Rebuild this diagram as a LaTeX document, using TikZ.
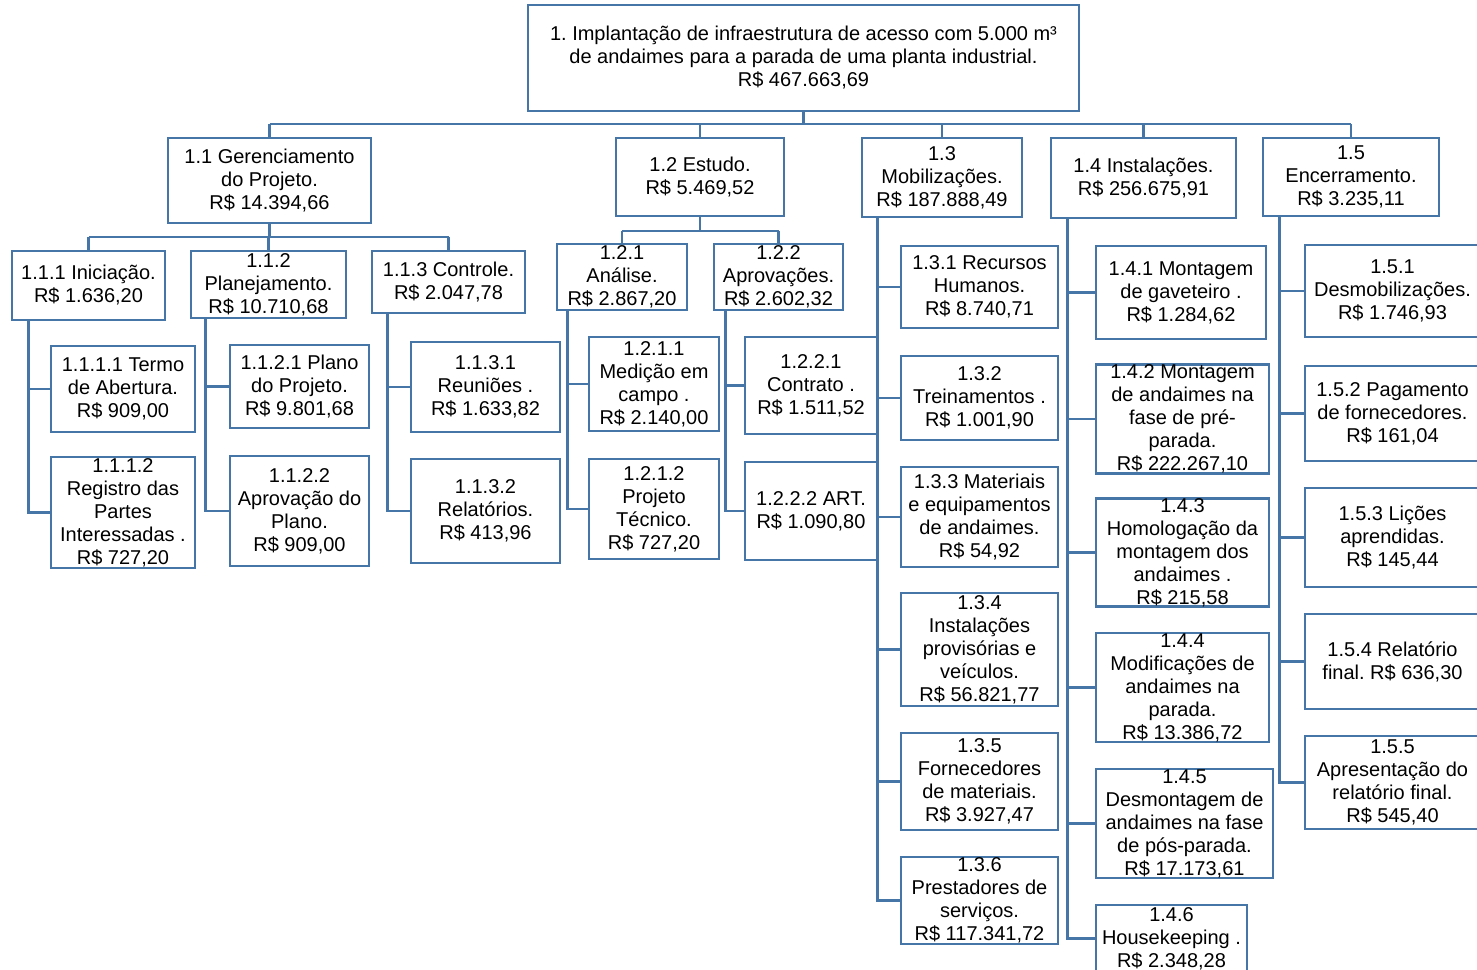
\documentclass[tikz,border=0pt]{standalone}
\usepackage{fontspec}
\setmainfont{Liberation Sans}
\frenchspacing
\definecolor{wbsblue}{RGB}{70,118,168}
\tikzset{
  wbox/.style={draw=wbsblue, line width=2.9pt, fill=white, inner sep=0pt, align=center,
    font=\fontsize{20}{23}\selectfont\frenchspacing, text=black},
  wline/.style={draw=wbsblue, line width=2.9pt}
}
\newcommand\wnode[7]{% name, x1, y1, x2, y2, text
  \node[wbox, minimum width={#4-#2}, minimum height={#5-#3}] (#1) at ({(#2+#4)/2},{(#3+#5)/2}) {#6};}
\begin{document}
\begin{tikzpicture}[x=1pt,y=-1pt]
\useasboundingbox (0,0) rectangle (1477,969);
\clip (0,0) rectangle (1477,969);
\fill[white] (0,0) rectangle (1477,969);

\coordinate (bus1) at (0,124);
\coordinate (bus11) at (0,237);
\coordinate (bus12) at (0,231);

\wnode{top}{528}{5}{1079}{111}{1. Implantação de infraestrutura de acesso com 5.000 m³\\de andaimes para a parada de uma planta industrial.\\R\$ 467.663,69}{}
\wnode{n11}{168}{138}{371}{223}{1.1 Gerenciamento\\do Projeto.\\R\$ 14.394,66}{}
\wnode{n12}{616}{138}{784}{216}{1.2 Estudo.\\R\$ 5.469,52}{}
\wnode{n13}{862}{138}{1022}{217}{1.3\\Mobilizações.\\R\$ 187.888,49}{}
\wnode{n14}{1051}{138}{1236}{218}{1.4 Instalações.\\R\$ 256.675,91}{}
\wnode{n15}{1263}{138}{1439}{216}{1.5\\Encerramento.\\R\$ 3.235,11}{}

\wnode{n111}{12}{251}{165}{320}{1.1.1 Iniciação.\\R\$ 1.636,20}{}
\wnode{n112}{191}{251}{346}{318}{1.1.2\\Planejamento.\\R\$ 10.710,68}{}
\wnode{n113}{372}{251}{525}{313}{1.1.3 Controle.\\R\$ 2.047,78}{}
\wnode{n121}{557}{244}{687}{310}{1.2.1\\Análise.\\R\$ 2.867,20}{}
\wnode{n122}{714}{244}{843}{310}{1.2.2\\Aprovações.\\R\$ 2.602,32}{}

\wnode{n1111}{51}{346}{195}{432}{1.1.1.1 Termo\\de Abertura.\\R\$ 909,00}{}
\wnode{n1112}{51}{457}{195}{568}{1.1.1.2\\Registro das\\Partes\\Interessadas .\\R\$ 727,20}{}
\wnode{n1121}{230}{345}{369}{428}{1.1.2.1 Plano\\do Projeto.\\R\$ 9.801,68}{}
\wnode{n1122}{230}{456}{369}{566}{1.1.2.2\\Aprovação do\\Plano.\\R\$ 909,00}{}
\wnode{n1131}{411}{342}{560}{432}{1.1.3.1\\Reuniões .\\R\$ 1.633,82}{}
\wnode{n1132}{411}{459}{560}{563}{1.1.3.2\\Relatórios.\\R\$ 413,96}{}
\wnode{n1211}{589}{337}{719}{431}{1.2.1.1\\Medição em\\campo .\\R\$ 2.140,00}{}
\wnode{n1212}{589}{459}{719}{559}{1.2.1.2\\Projeto\\Técnico.\\R\$ 727,20}{}
\wnode{n1221}{745}{337}{877}{434}{1.2.2.1\\Contrato .\\R\$ 1.511,52}{}
\wnode{n1222}{745}{462}{877}{560}{1.2.2.2 ART.\\R\$ 1.090,80}{}

\wnode{n131}{901}{246}{1058}{328}{1.3.1 Recursos\\Humanos.\\R\$ 8.740,71}{}
\wnode{n132}{901}{356}{1058}{440}{1.3.2\\Treinamentos .\\R\$ 1.001,90}{}
\wnode{n133}{901}{467}{1058}{567}{1.3.3 Materiais\\e equipamentos\\de andaimes.\\R\$ 54,92}{}
\wnode{n134}{901}{593}{1058}{706}{1.3.4\\Instalações\\provisórias e\\veículos.\\R\$ 56.821,77}{}
\wnode{n135}{901}{733}{1058}{830}{1.3.5\\Fornecedores\\de materiais.\\R\$ 3.927,47}{}
\wnode{n136}{901}{857}{1058}{944}{1.3.6\\Prestadores de\\serviços.\\R\$ 117.341,72}{}

\wnode{n141}{1096}{246}{1266}{339}{1.4.1 Montagem\\de gaveteiro .\\R\$ 1.284,62}{}
\wnode{n142}{1096}{366}{1269}{472}{1.4.2 Montagem\\de andaimes na\\fase de pré-\\parada.\\R\$ 222.267,10}{}
\wnode{n143}{1096}{499}{1269}{606}{1.4.3\\Homologação da\\montagem dos\\andaimes .\\R\$ 215,58}{}
\wnode{n144}{1096}{633}{1269}{742}{1.4.4\\Modificações de\\andaimes na\\parada.\\R\$ 13.386,72}{}
\wnode{n145}{1096}{769}{1273}{878}{1.4.5\\Desmontagem de\\andaimes na fase\\de pós-parada.\\R\$ 17.173,61}{}
\wnode{n146}{1096}{905}{1247}{972}{1.4.6\\Housekeeping .\\R\$ 2.348,28}{}

\wnode{n151}{1305}{245}{1480}{337}{1.5.1\\Desmobilizações.\\R\$ 1.746,93}{}
\wnode{n152}{1305}{366}{1480}{461}{1.5.2 Pagamento\\de fornecedores.\\R\$ 161,04}{}
\wnode{n153}{1305}{488}{1480}{587}{1.5.3 Lições\\aprendidas.\\R\$ 145,44}{}
\wnode{n154}{1305}{614}{1480}{709}{1.5.4 Relatório\\final. R\$ 636,30}{}
\wnode{n155}{1305}{736}{1480}{829}{1.5.5\\Apresentação do\\relatório final.\\R\$ 545,40}{}

% level 1 bus
\draw[wline] (top.south) -- (top.south |- bus1);
\draw[wline] (n11.north |- bus1) -- (n15.north |- bus1);
\foreach \n in {n11,n12,n13,n14,n15} \draw[wline] (\n.north) -- (\n.north |- bus1);

% level 2 buses
\draw[wline] (n11.south) -- (n11.south |- bus11);
\draw[wline] (n111.north |- bus11) -- (n113.north |- bus11);
\foreach \n in {n111,n112,n113} \draw[wline] (\n.north) -- (\n.north |- bus11);
\draw[wline] (n12.south) -- (n12.south |- bus12);
\draw[wline] (n121.north |- bus12) -- (n122.north |- bus12);
\foreach \n in {n121,n122} \draw[wline] (\n.north) -- (\n.north |- bus12);

% side connectors
\draw[wline] ([xshift=18pt]n111.south west) |- (n1112.west);
\draw[wline] ([xshift=18pt]n111.south west |- n1111.west) -- (n1111.west);
\draw[wline] ([xshift=16pt]n112.south west) |- (n1122.west);
\draw[wline] ([xshift=16pt]n112.south west |- n1121.west) -- (n1121.west);
\draw[wline] ([xshift=17pt]n113.south west) |- (n1132.west);
\draw[wline] ([xshift=17pt]n113.south west |- n1131.west) -- (n1131.west);
\draw[wline] ([xshift=12pt]n121.south west) |- (n1212.west);
\draw[wline] ([xshift=12pt]n121.south west |- n1211.west) -- (n1211.west);
\draw[wline] ([xshift=13pt]n122.south west) |- (n1222.west);
\draw[wline] ([xshift=13pt]n122.south west |- n1221.west) -- (n1221.west);

\draw[wline] ([xshift=17pt]n13.south west) |- (n136.west);
\foreach \n in {n131,n132,n133,n134,n135} \draw[wline] ([xshift=17pt]n13.south west |- \n.west) -- (\n.west);
\draw[wline] ([xshift=18pt]n14.south west) |- (n146.west);
\foreach \n in {n141,n142,n143,n144,n145} \draw[wline] ([xshift=18pt]n14.south west |- \n.west) -- (\n.west);
\draw[wline] ([xshift=18pt]n15.south west) |- (n155.west);
\foreach \n in {n151,n152,n153,n154} \draw[wline] ([xshift=18pt]n15.south west |- \n.west) -- (\n.west);
\end{tikzpicture}
\end{document}
